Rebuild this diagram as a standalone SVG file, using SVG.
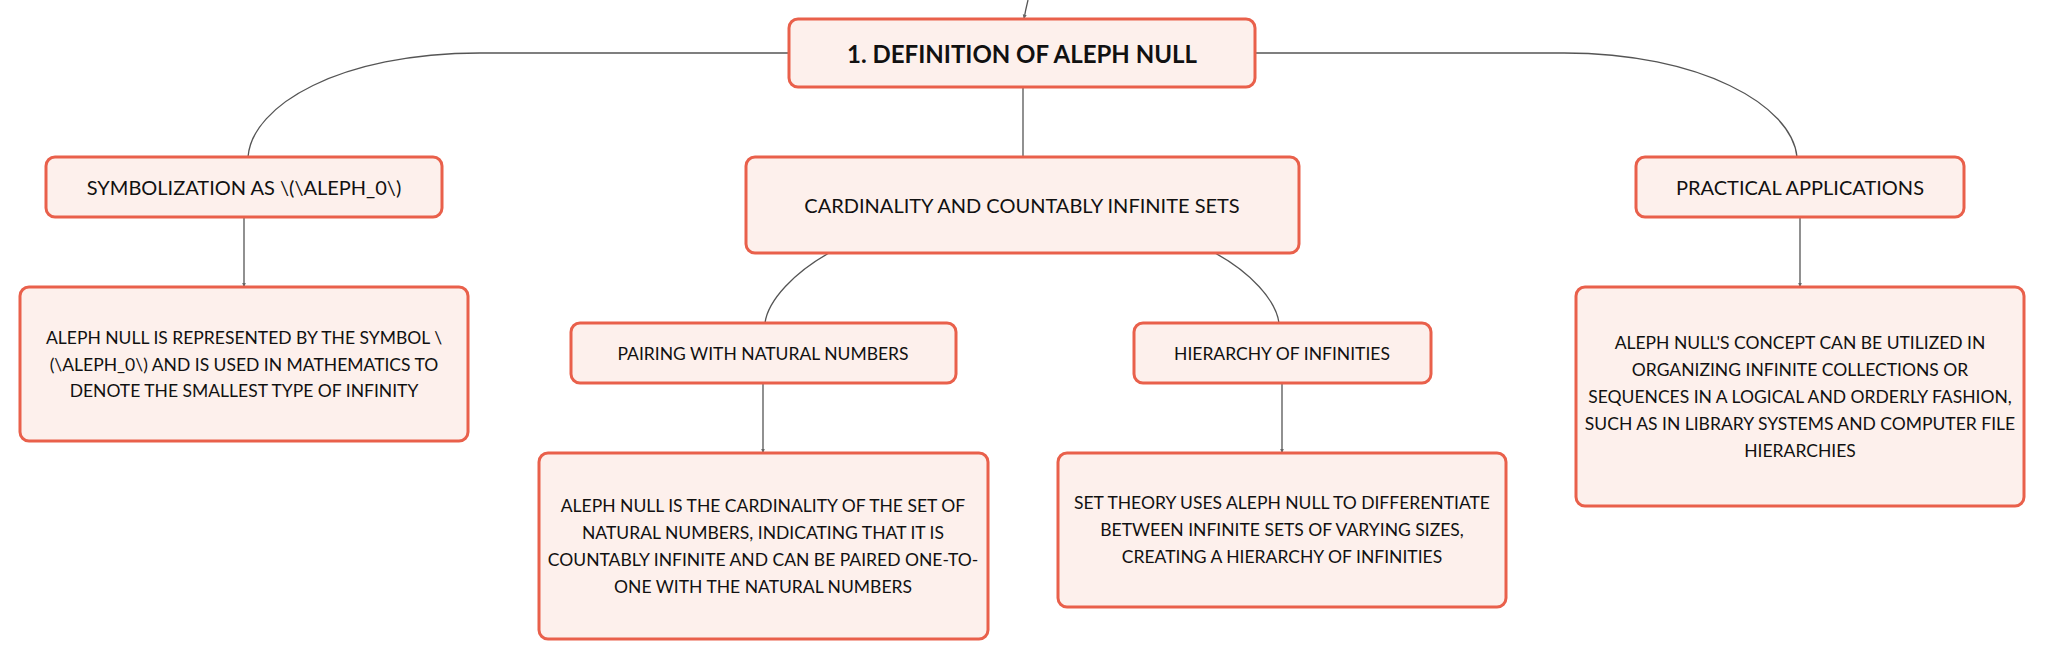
<svg xmlns="http://www.w3.org/2000/svg" width="2046" height="660" viewBox="0 0 2046 660">
<defs>
<marker id="arr" viewBox="0 0 10 10" refX="9" refY="5" markerWidth="5" markerHeight="5" orient="auto-start-reverse" markerUnits="userSpaceOnUse">
<path d="M0,1 L10,5 L0,9 z" fill="#666"/>
</marker>
<style>
.box{fill:#fdf0ec;stroke:#e9604b;stroke-width:3}
.t{font-family:Lato,"Liberation Sans",sans-serif;font-size:20px;fill:#111;text-anchor:middle;dominant-baseline:central}
.s{font-family:Lato,"Liberation Sans",sans-serif;font-size:17.5px;fill:#111;text-anchor:middle;dominant-baseline:central}
.d{font-family:Lato,"Liberation Sans",sans-serif;font-size:17.5px;fill:#111;text-anchor:middle;dominant-baseline:central}
.r{font-family:Lato,"Liberation Sans",sans-serif;font-size:24px;font-weight:bold;fill:#111;text-anchor:middle;dominant-baseline:central}
.c{fill:none;stroke:#555;stroke-width:1.3}
</style>
</defs>
<rect width="2046" height="660" fill="#ffffff"/>
<g id="connectors">
<path class="c" d="M1028,0 C1026,8 1025,13 1024,19" marker-end="url(#arr)"/>
<path class="c" d="M789,53 H480 C340,53 252,105 248,157"/>
<path class="c" d="M1255,53 H1564 C1700,53 1792,105 1797,157"/>
<path class="c" d="M1023,87 V157"/>
<path class="c" d="M244,217 V287" marker-end="url(#arr)"/>
<path class="c" d="M829,253 C795,272 768,300 765,323"/>
<path class="c" d="M1215,253 C1250,272 1276,300 1279,323"/>
<path class="c" d="M763,383 V453" marker-end="url(#arr)"/>
<path class="c" d="M1282,383 V453" marker-end="url(#arr)"/>
<path class="c" d="M1800,217 V287" marker-end="url(#arr)"/>
</g>
<g id="root">
<rect class="box" x="789" y="19" width="466" height="68" rx="9"/>
<text class="r" x="1022" y="53">1. DEFINITION OF ALEPH NULL</text>
</g>
<g id="symbolization">
<rect class="box" x="46" y="157" width="396" height="60" rx="9"/>
<text class="t" x="244" y="187">SYMBOLIZATION AS \(\ALEPH_0\)</text>
</g>
<g id="cardinality">
<rect class="box" x="746" y="157" width="553" height="96" rx="9"/>
<text class="t" x="1022" y="205">CARDINALITY AND COUNTABLY INFINITE SETS</text>
</g>
<g id="practical">
<rect class="box" x="1636" y="157" width="328" height="60" rx="9"/>
<text class="t" x="1800" y="187">PRACTICAL APPLICATIONS</text>
</g>
<g id="symbol-desc">
<rect class="box" x="20" y="287" width="448" height="154" rx="9"/>
<text class="d" x="244" y="337">ALEPH NULL IS REPRESENTED BY THE SYMBOL \</text>
<text class="d" x="244" y="364">(\ALEPH_0\) AND IS USED IN MATHEMATICS TO</text>
<text class="d" x="244" y="390">DENOTE THE SMALLEST TYPE OF INFINITY</text>
</g>
<g id="pairing">
<rect class="box" x="571" y="323" width="385" height="60" rx="9"/>
<text class="s" x="763" y="353">PAIRING WITH NATURAL NUMBERS</text>
</g>
<g id="hierarchy">
<rect class="box" x="1134" y="323" width="297" height="60" rx="9"/>
<text class="s" x="1282" y="353">HIERARCHY OF INFINITIES</text>
</g>
<g id="pairing-desc">
<rect class="box" x="539" y="453" width="449" height="186" rx="9"/>
<text class="d" x="763" y="505">ALEPH NULL IS THE CARDINALITY OF THE SET OF</text>
<text class="d" x="763" y="532">NATURAL NUMBERS, INDICATING THAT IT IS</text>
<text class="d" x="763" y="559">COUNTABLY INFINITE AND CAN BE PAIRED ONE-TO-</text>
<text class="d" x="763" y="586">ONE WITH THE NATURAL NUMBERS</text>
</g>
<g id="hierarchy-desc">
<rect class="box" x="1058" y="453" width="448" height="154" rx="9"/>
<text class="d" x="1282" y="502">SET THEORY USES ALEPH NULL TO DIFFERENTIATE</text>
<text class="d" x="1282" y="529">BETWEEN INFINITE SETS OF VARYING SIZES,</text>
<text class="d" x="1282" y="556">CREATING A HIERARCHY OF INFINITIES</text>
</g>
<g id="practical-desc">
<rect class="box" x="1576" y="287" width="448" height="219" rx="9"/>
<text class="d" x="1800" y="342">ALEPH NULL'S CONCEPT CAN BE UTILIZED IN</text>
<text class="d" x="1800" y="369">ORGANIZING INFINITE COLLECTIONS OR</text>
<text class="d" x="1800" y="396">SEQUENCES IN A LOGICAL AND ORDERLY FASHION,</text>
<text class="d" x="1800" y="423">SUCH AS IN LIBRARY SYSTEMS AND COMPUTER FILE</text>
<text class="d" x="1800" y="450">HIERARCHIES</text>
</g>
</svg>
